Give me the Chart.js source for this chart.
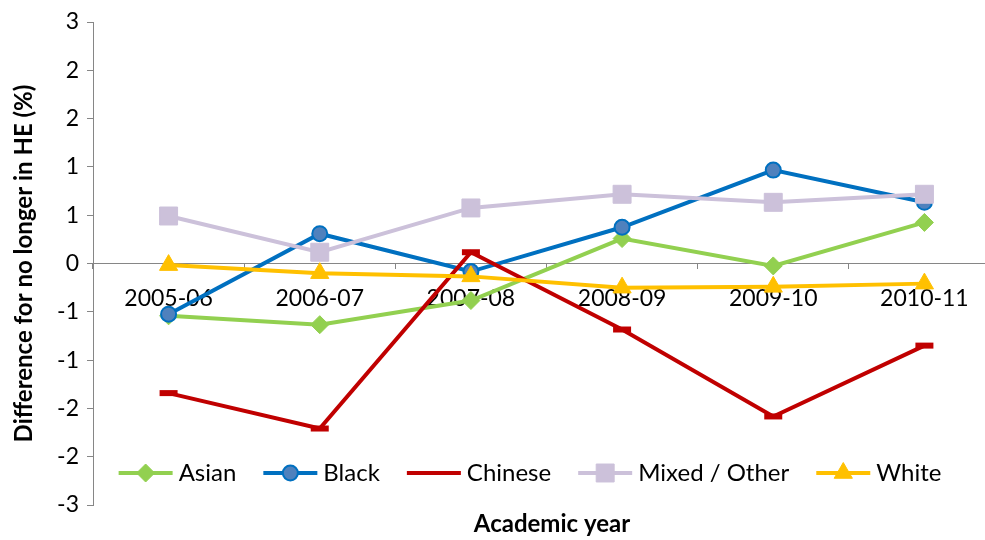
<!DOCTYPE html>
<html>
<head>
<meta charset="utf-8">
<script src="https://cdn.jsdelivr.net/npm/chart.js@4.4.1/dist/chart.umd.min.js"></script>
<style>
  html, body { margin: 0; padding: 0; background: #fff; overflow: hidden; }
  #wrap { width: 1015px; height: 540px; }
</style>
</head>
<body>
<div id="wrap"><canvas id="c" width="1015" height="540"></canvas></div>
<script>
// Academic years on the category axis
const academicYears = ['2005-06', '2006-07', '2007-08', '2008-09', '2009-10', '2010-11'];

// Difference for no longer in HE (%), by ethnic group
const asian      = [-0.65, -0.76, -0.46, 0.31, -0.03, 0.51];
const black      = [-0.63, 0.37, -0.10, 0.45, 1.16, 0.76];
const chinese    = [-1.61, -2.05, 0.14, -0.82, -1.90, -1.02];
const mixedOther = [0.59, 0.14, 0.69, 0.86, 0.76, 0.86];
const white      = [-0.02, -0.12, -0.16, -0.30, -0.29, -0.25];

// Value axis: steps of 0.6 shown as whole numbers
const yTickValues = [-3, -2.4, -1.8, -1.2, -0.6, 0, 0.6, 1.2, 1.8, 2.4, 3];
const yTickLabels = ['-3', '-2', '-2', '-1', '-1', '0', '1', '1', '2', '2', '3'];

const FONT = 'Lato, "DejaVu Sans", sans-serif';

const seriesStyles = [
  { label: 'Asian',         data: asian,      line: '#92D050', style: 'rectRot',  r: 9,    fill: '#92D050', stroke: '#92D050', bw: 1, order: 5 },
  { label: 'Black',         data: black,      line: '#0070C0', style: 'circle',   r: 7.5,  fill: '#4F81BD', stroke: '#0070C0', bw: 2, order: 4 },
  { label: 'Chinese',       data: chinese,    line: '#C00000', style: 'line',     r: 9,    fill: '#C00000', stroke: '#C00000', bw: 6, order: 3 },
  { label: 'Mixed / Other', data: mixedOther, line: '#CCC1DA', style: 'rect',     r: 12.7, fill: '#CCC1DA', stroke: '#CCC1DA', bw: 1, order: 2 },
  { label: 'White',         data: white,      line: '#FFC000', style: 'triangle', r: 10.5, fill: '#FFC000', stroke: '#FFC000', bw: 1, order: 1 }
];

const datasets = seriesStyles.map(s => ({
  label: s.label,
  data: s.data,
  borderColor: s.line,
  borderWidth: 4,
  tension: 0,
  fill: false,
  pointStyle: s.style,
  pointRadius: s.r,
  pointHoverRadius: s.r,
  pointBackgroundColor: s.fill,
  pointBorderColor: s.stroke,
  pointBorderWidth: s.bw,
  order: s.order
}));

// Legend row laid over the lower plot, plus the category-axis title at the bottom
const bottomAnnotations = {
  id: 'bottomAnnotations',
  afterDraw(chart) {
    const ctx = chart.ctx;
    ctx.save();
    ctx.font = '24px ' + FONT;
    const lineLen = 54, gapText = 6, gapItem = 27;
    const widths = seriesStyles.map(s => ctx.measureText(s.label).width);
    let total = gapItem * (widths.length - 1);
    widths.forEach(w => { total += lineLen + gapText + w; });
    let x = 530 - total / 2;
    const y = 473;
    seriesStyles.forEach((s, i) => {
      ctx.strokeStyle = s.line;
      ctx.lineWidth = 4;
      ctx.beginPath();
      ctx.moveTo(x, y);
      ctx.lineTo(x + lineLen, y);
      ctx.stroke();
      if (s.style !== 'line') {
        ctx.fillStyle = s.fill;
        ctx.strokeStyle = s.stroke;
        ctx.lineWidth = s.bw;
        Chart.helpers.drawPoint(ctx, { pointStyle: s.style, radius: s.r, borderWidth: s.bw, rotation: 0 }, x + lineLen / 2, y);
      }
      ctx.fillStyle = '#000';
      ctx.textAlign = 'left';
      ctx.textBaseline = 'middle';
      ctx.fillText(s.label, x + lineLen + gapText, y);
      x += lineLen + gapText + widths[i] + gapItem;
    });
    ctx.font = 'bold 24px ' + FONT;
    ctx.textAlign = 'center';
    ctx.fillText('Academic year', 552, 524);
    ctx.restore();
  }
};

new Chart(document.getElementById('c'), {
  type: 'line',
  data: { labels: academicYears, datasets },
  options: {
    responsive: false,
    animation: false,
    layout: { padding: { top: 22, bottom: 35, left: 0, right: 6 } },
    plugins: { legend: { display: false }, tooltip: { enabled: false } },
    scales: {
      x: {
        type: 'category',
        position: { y: 0 },
        offset: true,
        grid: { display: true, drawOnChartArea: false, drawTicks: true, tickLength: 5, color: '#868686', offset: true },
        border: { display: true, color: '#868686', width: 1 },
        ticks: { font: { family: FONT, size: 23 }, color: '#000', padding: 16, maxRotation: 0, autoSkip: false }
      },
      y: {
        min: -3,
        max: 3,
        afterBuildTicks: s => { s.ticks = yTickValues.map(v => ({ value: v })); },
        afterFit: s => { s.width = 93; },
        grid: { display: true, drawOnChartArea: false, drawTicks: true, tickLength: 6, color: '#868686' },
        border: { display: true, color: '#868686', width: 1 },
        ticks: { font: { family: FONT, size: 23 }, color: '#000', padding: 8, callback: (v, i) => yTickLabels[i] },
        title: {
          display: true,
          text: 'Difference for no longer in HE (%)',
          font: { family: FONT, size: 24, weight: 'bold' },
          color: '#000',
          padding: { top: 10, bottom: 0 }
        }
      }
    }
  },
  plugins: [bottomAnnotations]
});
</script>
</body>
</html>
